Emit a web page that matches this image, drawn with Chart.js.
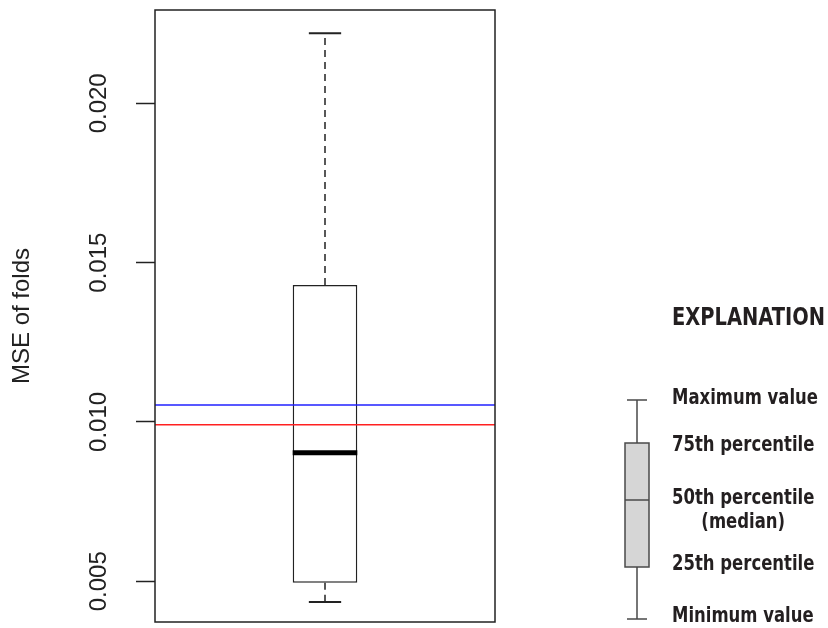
<!DOCTYPE html>
<html>
<head>
<meta charset="utf-8">
<script src="https://cdn.jsdelivr.net/npm/chart.js@4.4.1/dist/chart.umd.min.js"></script>
<style>
  html, body { margin: 0; padding: 0; background: #ffffff; }
  #wrap { position: relative; width: 828px; height: 628px; }
</style>
</head>
<body>
<div id="wrap"><canvas id="mseChart"></canvas></div>
<script>
// Boxplot summary of the fold MSE values
const boxLabels = ['folds'];
const boxMin = [0.00435];
const boxQ1 = [0.00495];
const boxMedian = [0.00903];
const boxQ3 = [0.0143];
const boxMax = [0.0222];

// horizontal reference lines drawn across the plot
const refValues = [0.01053, 0.00991];
const refColors = ['#2020ff', '#ff2020'];

// y axis
const yTickValues = [0.005, 0.010, 0.015, 0.020];
const yMin = 0.00372;
const yMax = 0.02293;

// explanation panel text
const explanationTitle = 'EXPLANATION';
const explanationLabels = ['Maximum value', '75th percentile', '50th percentile', '(median)', '25th percentile', 'Minimum value'];

const ink = '#222222';
const legendFont = '"Liberation Sans Narrow", "DejaVu Sans Condensed", sans-serif';

// whiskers, caps, median bar, reference lines and frame
const boxPlotPlugin = {
    id: 'boxPlot',
    afterDatasetsDraw(chart) {
        const ctx = chart.ctx;
        const y = chart.scales.y;
        const area = chart.chartArea;
        const meta = chart.getDatasetMeta(0);

        ctx.save();
        meta.data.forEach((bar, i) => {
            const half = bar.width / 2;
            const capHalf = bar.width / 4;

            // dashed whiskers
            ctx.strokeStyle = ink;
            ctx.lineWidth = 1.5;
            ctx.setLineDash([7, 5]);
            ctx.beginPath();
            ctx.moveTo(bar.x, y.getPixelForValue(boxQ3[i]));
            ctx.lineTo(bar.x, y.getPixelForValue(boxMax[i]));
            ctx.moveTo(bar.x, y.getPixelForValue(boxQ1[i]));
            ctx.lineTo(bar.x, y.getPixelForValue(boxMin[i]));
            ctx.stroke();

            // caps
            ctx.setLineDash([]);
            ctx.lineWidth = 2;
            ctx.beginPath();
            const yHi = y.getPixelForValue(boxMax[i]);
            const yLo = y.getPixelForValue(boxMin[i]);
            ctx.moveTo(bar.x - capHalf, yHi);
            ctx.lineTo(bar.x + capHalf, yHi);
            ctx.moveTo(bar.x - capHalf, yLo);
            ctx.lineTo(bar.x + capHalf, yLo);
            ctx.stroke();

            // median
            ctx.strokeStyle = '#000000';
            ctx.lineWidth = 5;
            const yMed = y.getPixelForValue(boxMedian[i]);
            ctx.beginPath();
            ctx.moveTo(bar.x - half, yMed);
            ctx.lineTo(bar.x + half, yMed);
            ctx.stroke();
        });

        // reference lines
        ctx.lineWidth = 1.5;
        refValues.forEach((v, k) => {
            const py = y.getPixelForValue(v);
            ctx.strokeStyle = refColors[k];
            ctx.beginPath();
            ctx.moveTo(area.left, py);
            ctx.lineTo(area.right, py);
            ctx.stroke();
        });

        // plot frame
        ctx.strokeStyle = ink;
        ctx.lineWidth = 1.5;
        ctx.strokeRect(area.left, area.top, area.right - area.left, area.bottom - area.top);
        ctx.restore();
    }
};

// draw text squeezed horizontally to a given width (condensed look)
function fillCondensed(ctx, txt, x, y, width, align) {
    const w = ctx.measureText(txt).width;
    const sx = width / w;
    ctx.save();
    ctx.translate(x, y);
    ctx.scale(sx, 1);
    ctx.textAlign = align || 'left';
    ctx.fillText(txt, 0, 0);
    ctx.restore();
}

// explanation diagram on the right
const explanationPlugin = {
    id: 'explanation',
    afterDraw(chart) {
        const ctx = chart.ctx;
        ctx.save();
        ctx.fillStyle = '#231f20';
        ctx.textBaseline = 'middle';
        ctx.font = 'bold 25px ' + legendFont;
        fillCondensed(ctx, explanationTitle, 672, 318, 153);

        // schematic box
        const cx = 637;
        ctx.strokeStyle = '#4a4a4a';
        ctx.lineWidth = 1.5;
        ctx.beginPath();
        ctx.moveTo(cx, 400); ctx.lineTo(cx, 443);
        ctx.moveTo(cx, 567); ctx.lineTo(cx, 619);
        ctx.moveTo(cx - 10, 400); ctx.lineTo(cx + 10, 400);
        ctx.moveTo(cx - 10, 619); ctx.lineTo(cx + 10, 619);
        ctx.stroke();
        ctx.fillStyle = '#d6d6d6';
        ctx.fillRect(cx - 12, 443, 24, 124);
        ctx.strokeRect(cx - 12, 443, 24, 124);
        ctx.beginPath();
        ctx.moveTo(cx - 12, 500); ctx.lineTo(cx + 12, 500);
        ctx.stroke();

        // labels, all squeezed by the same factor as the first one
        ctx.fillStyle = '#231f20';
        ctx.font = 'bold 21px ' + legendFont;
        const squeeze = 146 / ctx.measureText(explanationLabels[0]).width;
        const rows = [399, 446, 499, 523, 565, 617];
        explanationLabels.forEach((txt, k) => {
            const w = ctx.measureText(txt).width * squeeze;
            if (txt === '(median)') {
                const wPrev = ctx.measureText(explanationLabels[k - 1]).width * squeeze;
                fillCondensed(ctx, txt, 672 + wPrev / 2, rows[k], w, 'center');
            } else {
                fillCondensed(ctx, txt, 672, rows[k], w);
            }
        });
        ctx.restore();
    }
};

const ctx = document.getElementById('mseChart').getContext('2d');
new Chart(ctx, {
    type: 'bar',
    data: {
        labels: boxLabels,
        datasets: [{
            data: boxLabels.map((_, i) => [boxQ1[i], boxQ3[i]]),
            backgroundColor: '#ffffff',
            borderColor: ink,
            borderWidth: 1.5,
            borderSkipped: false,
            categoryPercentage: 1,
            barPercentage: 0.19
        }]
    },
    options: {
        responsive: true,
        maintainAspectRatio: false,
        animation: false,
        layout: { padding: { top: 10, right: 333, bottom: 6, left: 0 } },
        plugins: {
            legend: { display: false },
            tooltip: { enabled: false }
        },
        scales: {
            x: { display: false },
            y: {
                min: yMin,
                max: yMax,
                afterBuildTicks: (scale) => {
                    scale.ticks = yTickValues.map(v => ({ value: v }));
                },
                afterFit: (scale) => {
                    scale.width = 155;
                    scale.paddingTop = 0;
                    scale.paddingBottom = 0;
                },
                grid: {
                    drawOnChartArea: false,
                    tickLength: 19,
                    tickColor: ink,
                    tickWidth: 1.5
                },
                border: { display: false },
                ticks: {
                    minRotation: 90,
                    maxRotation: 90,
                    crossAlign: 'center',
                    padding: 7,
                    color: ink,
                    font: { family: '"Liberation Sans", Arial, sans-serif', size: 24 },
                    callback: (v) => Number(v).toFixed(3)
                },
                title: {
                    display: true,
                    text: 'MSE of folds',
                    color: ink,
                    font: { family: '"Liberation Sans", Arial, sans-serif', size: 24 },
                    padding: { top: 8, bottom: 0 }
                }
            }
        }
    },
    plugins: [boxPlotPlugin, explanationPlugin]
});
</script>
</body>
</html>
